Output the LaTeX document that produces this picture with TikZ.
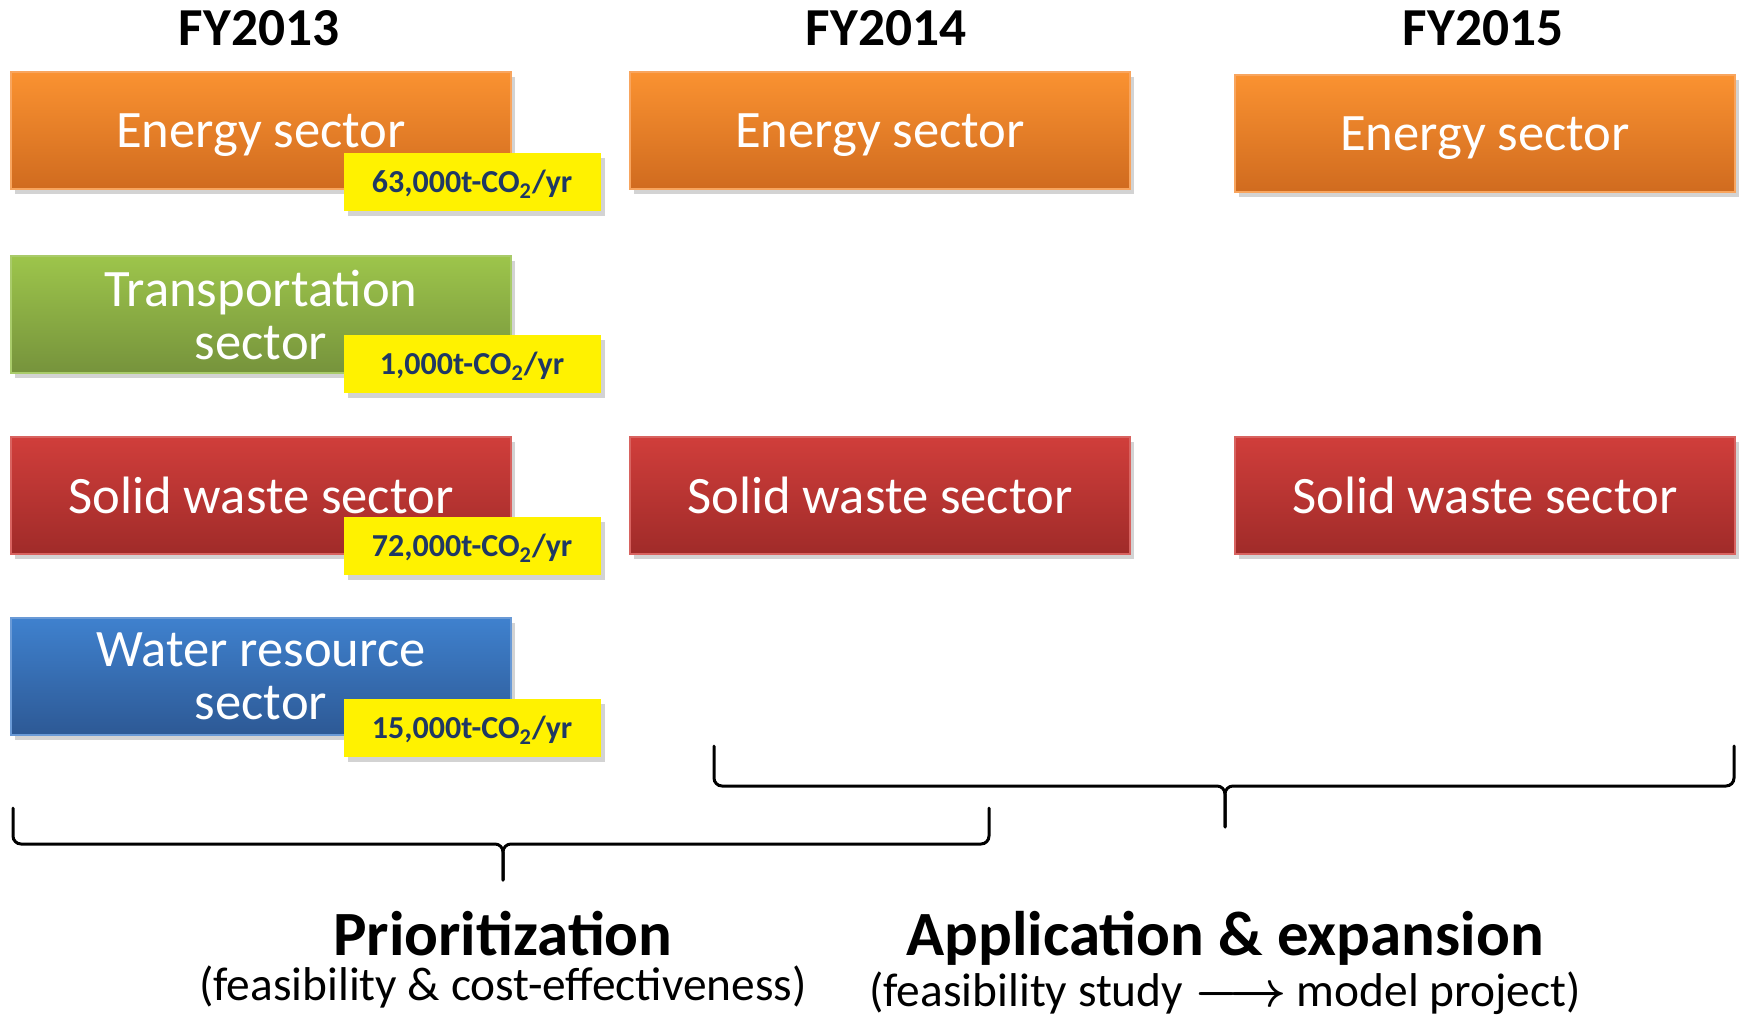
\documentclass[tikz,border=0pt]{standalone}
\usepackage{fontspec}
\setmainfont{Carlito}
\usetikzlibrary{positioning,calc,shadows}
\definecolor{enTop}{HTML}{FA9231}
\definecolor{enBot}{HTML}{D06B1F}
\definecolor{enDraw}{HTML}{F8A55E}
\definecolor{trTop}{HTML}{9DC54B}
\definecolor{trBot}{HTML}{76933C}
\definecolor{trDraw}{HTML}{A9CB6A}
\definecolor{swTop}{HTML}{D03E3B}
\definecolor{swBot}{HTML}{A02B29}
\definecolor{swDraw}{HTML}{D86360}
\definecolor{wrTop}{HTML}{3F81CE}
\definecolor{wrBot}{HTML}{2D5995}
\definecolor{wrDraw}{HTML}{6A9AD6}
\definecolor{tagText}{HTML}{1F3864}
\tikzset{
  box/.style   ={align=center, text=white, minimum width=250pt, minimum height=58.5pt, inner sep=0pt, outer sep=0pt,
                 text depth=0pt, line width=0.6pt, font=\fontsize{26.3}{26.5}\selectfont,
                 drop shadow={opacity=0.35, shadow xshift=2pt, shadow yshift=-2.5pt}},
  energy/.style={box, top color=enTop, bottom color=enBot, draw=enDraw},
  transp/.style={box, top color=trTop, bottom color=trBot, draw=trDraw},
  waste/.style ={box, top color=swTop, bottom color=swBot, draw=swDraw},
  water/.style ={box, top color=wrTop, bottom color=wrBot, draw=wrDraw},
  tag/.style   ={fill=yellow, text=tagText, font=\bfseries\fontsize{16}{18}\selectfont, anchor=south east,
                 minimum width=128.5pt, minimum height=29pt, inner sep=0pt, text depth=0pt,
                 drop shadow={opacity=0.35, shadow xshift=2pt, shadow yshift=-2.5pt}},
  year/.style  ={font=\bfseries\fontsize{26.7}{28}\selectfont, anchor=base, inner sep=0pt},
  phase/.style ={font=\bfseries\fontsize{31.5}{33}\selectfont, anchor=base, inner sep=0pt},
  detail/.style={font=\fontsize{23.7}{25}\selectfont, anchor=base, inner sep=0pt},
  brace/.style ={line width=1.5pt, rounded corners=4pt, line cap=round},
}

\begin{document}
\begin{tikzpicture}[x=0.5pt, y=-0.5pt]
  \useasboundingbox (0,0) rectangle (1741,1018);
  % years
  \node[year] (y13) at (259,45)  {FY2013};
  \node[year] (y14) at (886,45)  {FY2014};
  \node[year] (y15) at (1483,45) {FY2015};
  % FY2013 sectors
  \node[energy]                     (e13)  at (261,130.5) {Energy sector};
  \node[transp, below=33.5pt of e13] (tr13) {Transportation\\sector};
  \node[waste,  below=32pt of tr13]  (sw13) {Solid waste sector};
  \node[water,  below=32pt of sw13]  (wr13) {Water resource\\sector};
  % reductions
  \node[tag] (te13) at ($(e13.south east)+(90,22)$)  {63,000t-CO\textsubscript{2}/yr};
  \node[tag] (tt13) at ($(tr13.south east)+(90,20)$) {1,000t-CO\textsubscript{2}/yr};
  \node[tag] (ts13) at ($(sw13.south east)+(90,21)$) {72,000t-CO\textsubscript{2}/yr};
  \node[tag] (tw13) at ($(wr13.south east)+(90,22)$) {15,000t-CO\textsubscript{2}/yr};
  % FY2014 / FY2015
  \node[energy, right=59.5pt of e13]              (e14)  {Energy sector};
  \node[energy, right=52.5pt of e14, yshift=-1.5pt] (e15) {Energy sector};
  \node[waste,  right=59.5pt of sw13]             (sw14) {Solid waste sector};
  \node[waste,  right=52.5pt of sw14]             (sw15) {Solid waste sector};
  % braces
  \draw[brace] (13,808) -- (13,844) -- (503,844) -- (503,880);
  \draw[brace] (989,808) -- (989,844) -- (503,844) -- (503,880);
  \draw[brace] (714,746) -- (714,786) -- (1225,786) -- (1225,827);
  \draw[brace] (1734,746) -- (1734,786) -- (1225,786) -- (1225,827);
  % phases
  \node[phase]  (prio)     at (503,955)  {Prioritization};
  \node[detail] (prioNote) at (503,1000) {(feasibility \& cost-effectiveness)};
  \node[phase]  (app)      at (1225,955) {Application \& expansion};
  \node[detail] (appNote)  at (1225,1006) {(feasibility study {\boldmath$\longrightarrow$} model project)};
\end{tikzpicture}
\end{document}
